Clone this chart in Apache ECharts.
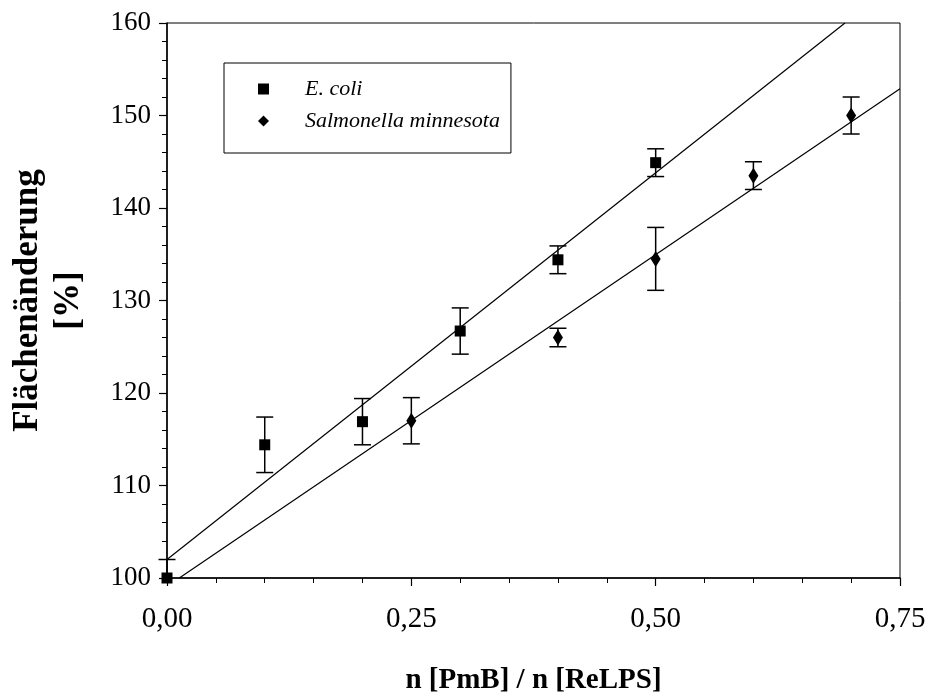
<!DOCTYPE html>
<html>
<head>
<meta charset="utf-8">
<script src="https://cdn.jsdelivr.net/npm/echarts@6/dist/echarts.min.js"></script>
<style>
html,body{margin:0;padding:0;background:#fff;}
#chart{width:932px;height:695px;}
</style>
</head>
<body>
<div id="chart"></div>
<script>
// ---- data ----
const seriesNames = ['E. coli', 'Salmonella minnesota'];
const ecoliX   = [0, 0.1, 0.2, 0.3, 0.4, 0.5];
const ecoliY   = [100, 114.4, 116.9, 126.7, 134.4, 144.9];
const ecoliErr = [2, 3.0, 2.5, 2.5, 1.5, 1.5];
const salX     = [0.25, 0.4, 0.5, 0.6, 0.7];
const salY     = [117, 126, 134.5, 143.5, 150];
const salErr   = [2.5, 1.0, 3.4, 1.5, 2.0];
// linear fit endpoints
const ecoliFit = [[0, 102.0], [0.6937, 160]];
const salFit   = [[0.0126, 100], [0.75, 152.9]];
const xTicks = [0, 0.25, 0.5, 0.75];
const yTicks = [100, 110, 120, 130, 140, 150, 160];

const FONT = 'Liberation Serif';

function pts(xs, ys) { return xs.map((x, i) => [x, ys[i]]); }
function errData(xs, ys, es) { return xs.map((x, i) => [x, ys[i], es[i]]); }

function errRender(params, api) {
  const cs = params.coordSys;
  const x = api.value(0), y = api.value(1), e = api.value(2);
  const top = api.coord([x, y + e]);
  const bot = api.coord([x, y - e]);
  const yMin = cs.y, yMax = cs.y + cs.height;
  const half = 8.5;
  const children = [];
  const t = Math.max(top[1], yMin), b = Math.min(bot[1], yMax);
  const style = { stroke: '#000', lineWidth: 1.5 };
  children.push({ type: 'line', shape: { x1: top[0], y1: t, x2: top[0], y2: b }, style });
  if (top[1] >= yMin) children.push({ type: 'line', shape: { x1: top[0] - half, y1: top[1], x2: top[0] + half, y2: top[1] }, style });
  if (bot[1] <= yMax) children.push({ type: 'line', shape: { x1: bot[0] - half, y1: bot[1], x2: bot[0] + half, y2: bot[1] }, style });
  return { type: 'group', children };
}

const chart = echarts.init(document.getElementById('chart'));
chart.setOption({
  backgroundColor: '#fff',
  animation: false,
  grid: { left: 167, right: 32, top: 23, bottom: 117, containLabel: false, outerBoundsMode: 'none',
    show: true, borderColor: '#000', borderWidth: 1, backgroundColor: 'transparent' },
  legend: {
    orient: 'vertical', left: 224, top: 63,
    padding: [15, 11, 21, 34],
    itemGap: 10, itemWidth: 11, itemHeight: 11,
    borderColor: '#000', borderWidth: 1,
    data: [
      { name: seriesNames[0], icon: 'rect' },
      { name: seriesNames[1], icon: 'diamond' }
    ],
    textStyle: { fontFamily: FONT, fontStyle: 'italic', fontSize: 22, color: '#000', padding: [0, 0, 0, 31] }
  },
  xAxis: {
    type: 'value', min: xTicks[0], max: xTicks[xTicks.length - 1], interval: 0.25,
    axisLine: { lineStyle: { color: '#000', width: 1.5 } },
    axisTick: { show: true, inside: false, length: 8, lineStyle: { color: '#000', width: 1.2 } },
    minorTick: { show: true, splitNumber: 5, length: 5, lineStyle: { color: '#000', width: 1 } },
    splitLine: { show: false },
    axisLabel: { fontFamily: FONT, fontSize: 29, color: '#000', margin: 27,
      formatter: v => v.toFixed(2).replace('.', ',') },
    name: 'n [PmB] / n [ReLPS]', nameLocation: 'middle', nameGap: 88,
    nameTextStyle: { fontFamily: FONT, fontWeight: 'bold', fontSize: 29, color: '#000' }
  },
  yAxis: {
    type: 'value', min: yTicks[0], max: yTicks[yTicks.length - 1], interval: 10,
    axisLine: { lineStyle: { color: '#000', width: 1.5 } },
    axisTick: { show: true, inside: false, length: 8, lineStyle: { color: '#000', width: 1.2 } },
    minorTick: { show: true, splitNumber: 5, length: 5, lineStyle: { color: '#000', width: 1 } },
    splitLine: { show: false },
    axisLabel: { fontFamily: FONT, fontSize: 27, color: '#000', margin: 16 },
    name: 'Flächenänderung\n[%]', nameLocation: 'middle', nameGap: 78, nameRotate: 90,
    nameTextStyle: { fontFamily: FONT, fontWeight: 'bold', fontSize: 35, color: '#000', lineHeight: 41 }
  },
  series: [
    { name: 'fit1', type: 'line', data: ecoliFit, symbol: 'none', lineStyle: { color: '#000', width: 1.2 }, z: 1, silent: true },
    { name: 'fit2', type: 'line', data: salFit, symbol: 'none', lineStyle: { color: '#000', width: 1.2 }, z: 1, silent: true },
    { name: 'err1', type: 'custom', data: errData(ecoliX, ecoliY, ecoliErr), renderItem: errRender, encode: { x: 0, y: 1 }, z: 2 },
    { name: 'err2', type: 'custom', data: errData(salX, salY, salErr), renderItem: errRender, encode: { x: 0, y: 1 }, z: 2 },
    { name: seriesNames[0], type: 'scatter', data: pts(ecoliX, ecoliY), symbol: 'rect', symbolSize: 11, itemStyle: { color: '#000', opacity: 1 }, z: 3 },
    { name: seriesNames[1], type: 'scatter', data: pts(salX, salY), symbol: 'diamond', symbolSize: [10, 16], itemStyle: { color: '#000', opacity: 1 }, z: 3 }
  ]
});
</script>
</body>
</html>
